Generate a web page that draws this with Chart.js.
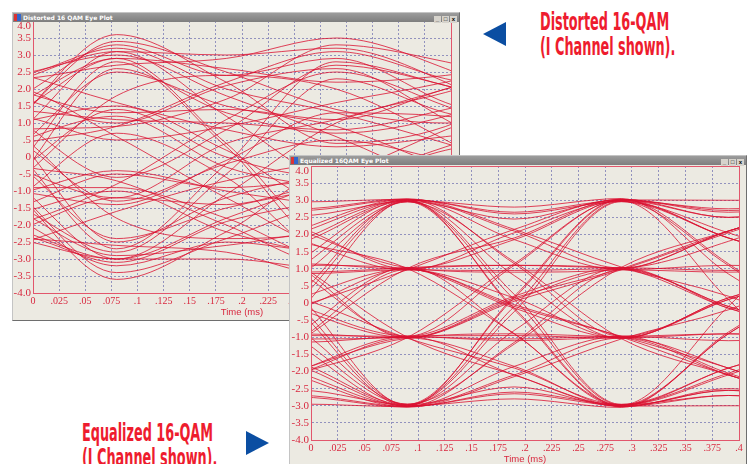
<!DOCTYPE html>
<html>
<head>
<meta charset="utf-8">
<script src="https://cdn.jsdelivr.net/npm/chart.js@4.4.1/dist/chart.umd.min.js"></script>
<style>
  html, body { margin: 0; padding: 0; background: #fff; width: 750px; height: 464px; overflow: hidden; position: relative; }
  .win { position: absolute; box-sizing: border-box; background: #ECEAE2; overflow: hidden;
         border: 1px solid; border-color: #c4c4c4 #6e6e6e #6e6e6e #c4c4c4; }
  .bar { position: absolute; left: 0; right: 0; top: 0; height: 9px; z-index: 2;
         background: linear-gradient(#9c9c9c, #7e7e7e); color: #fff;
         font: bold 6px "DejaVu Sans", sans-serif; line-height: 9px; padding-left: 10px; white-space: nowrap; }
  .bar .ico { position: absolute; left: 1px; top: 1px; width: 7px; height: 7px;
              background: linear-gradient(90deg, #d33 0 50%, #36c 50% 100%); }
  .bar .btns { position: absolute; right: 2px; top: 1px; }
  .bar .btns i { display: inline-block; width: 7px; height: 7px; margin-left: 1px; background: #d6d3cc;
                 color: #000; font: bold 6px sans-serif; line-height: 7px; text-align: center; font-style: normal; }
  canvas { position: absolute; }
  .note { position: absolute; color: #EE1C2E; font: bold 25px "Liberation Sans Narrow", "DejaVu Sans Condensed", sans-serif;
          line-height: 25px; transform: scaleX(0.57); transform-origin: left top; white-space: nowrap; }
  .tri { position: absolute; width: 0; height: 0; }
</style>
</head>
<body>

<div class="win" style="left:12px; top:12px; width:448px; height:309px; z-index:1;">
  <div class="bar"><span class="ico"></span>Distorted 16 QAM Eye Plot<span class="btns"><i>_</i><i>&#9633;</i><i>x</i></span></div>
  <canvas id="distorted" width="446" height="315" style="left:0; top:-7px;"></canvas>
</div>

<div class="win" style="left:289px; top:155px; width:458px; height:312px; z-index:3;">
  <div class="bar"><span class="ico"></span>Equalized 16QAM Eye Plot<span class="btns"><i>_</i><i>&#9633;</i><i>x</i></span></div>
  <canvas id="equalized" width="457" height="317" style="left:0; top:-5px;"></canvas>
</div>

<div class="tri" style="left:483px; top:22px; border-right:23px solid #0B4EA2; border-top:12px solid transparent; border-bottom:12px solid transparent;"></div>
<div class="note" style="left:540px; top:9px;">Distorted 16-QAM<br>(I Channel shown).</div>

<div class="note" style="left:82px; top:420px;">Equalized 16-QAM<br>(I Channel shown).</div>
<div class="tri" style="left:246px; top:431px; border-left:23px solid #0B4EA2; border-top:12px solid transparent; border-bottom:12px solid transparent;"></div>

<script>
// sample instants (ms): symbol, crossing, symbol, crossing ...
const dsTimes = [-0.12, -0.02, 0.08, 0.185, 0.29, 0.395, 0.5];
const eqTimes = [-0.11, -0.01, 0.09, 0.19, 0.29, 0.39, 0.49];

const xTickLabels = ['0', '.025', '.05', '.075', '.1', '.125', '.15', '.175', '.2',
                     '.225', '.25', '.275', '.3', '.325', '.35', '.375', '.4'];
const yTickLabels = ['-4.0', '-3.5', '-3.0', '-2.5', '-2.0', '-1.5', '-1.0', '-.5', '0',
                     '.5', '1.0', '1.5', '2.0', '2.5', '3.0', '3.5', '4.0'];

// distorted eye, traces grouped by level at first symbol
const dsFromTop = [
  [ 1.2,  1.7,  3.3,  2.4,  2.9,  1.6,  0.5],
  [-0.8,  0.6,  3.1,  1.2, -0.9, -1.8, -2.8],
  [-2.6, -0.4,  2.8,  0.3, -2.7, -2.0, -1.0],
  [ 2.6,  2.4,  3.2,  2.0,  1.3,  0.4, -0.6],
  [ 0.9,  1.3,  2.9,  0.4, -2.4, -1.2, -0.6],
  [-1.2,  1.0,  3.4,  2.5,  1.4,  1.0,  1.2],
  [ 2.7,  2.3,  2.7,  2.9,  3.5,  2.6,  1.1],
  [-3.0, -0.8,  2.6,  1.3,  0.7,  1.2,  2.4],
  [ 1.4,  2.2,  3.1,  3.0,  3.2,  2.2,  0.4],
  [-0.9,  0.2,  2.5,  1.5,  0.9, -0.3, -1.2],
  [ 2.2,  2.4,  3.0,  1.8,  0.6, -0.8, -2.0],
  [-2.0,  0.9,  3.6,  2.2,  0.4,  0.9,  2.6],
  [ 0.4,  1.5,  2.9,  2.6,  2.2,  2.4,  2.9]
];
const dsFromUpper = [
  [ 2.8,  2.0,  1.3,  1.4,  1.1,  2.0,  2.9],
  [-1.1,  0.3,  0.9,  2.2,  3.1,  2.3,  1.6],
  [ 0.8,  1.0,  1.5,  0.2, -1.4, -1.1, -0.6],
  [-2.7, -1.3,  0.7, -0.6, -2.9, -2.2, -1.0],
  [ 2.5,  1.8,  1.0,  2.1,  2.6,  1.1, -0.9],
  [ 1.1,  1.2,  0.5,  0.9,  1.6,  2.2,  3.0],
  [-0.6,  0.4,  1.2, -0.3, -1.0, -2.0, -2.8],
  [ 3.1,  2.5,  1.6,  0.8,  0.3,  0.6,  1.0],
  [ 0.2,  0.8,  0.9,  1.7,  3.3,  2.8,  2.0],
  [-1.8, -0.5,  1.4,  0.0, -0.6,  0.2,  0.9],
  [ 1.6,  1.4,  1.1,  1.0,  0.8,  1.4,  2.2],
  [-2.2, -0.8,  1.8,  2.4,  2.0,  0.5, -1.3],
  [ 2.3,  2.1,  0.6, -1.2, -2.6, -1.6, -0.2]
];
const dsFromLower = [
  [-2.9, -2.2, -1.2, -1.4, -0.8, -1.9, -2.7],
  [ 1.0, -0.2, -0.7, -2.0, -3.2, -2.4, -1.5],
  [-0.9, -1.0, -1.4, -0.1,  1.3,  1.2,  0.8],
  [ 2.8,  1.2, -0.6,  0.8,  2.7,  2.1,  1.1],
  [-2.4, -1.7, -1.0, -2.2, -2.8, -1.0,  0.9],
  [-1.3, -1.1, -0.4, -1.0, -1.5, -2.3, -3.1],
  [ 0.7, -0.3, -1.2,  0.4,  1.1,  2.0,  2.9],
  [-3.2, -2.6, -1.6, -0.7, -0.2, -0.5, -1.1],
  [-0.3, -0.9, -0.9, -1.8, -3.0, -2.7, -1.9],
  [ 1.9,  0.6, -1.3, -0.2,  0.5, -0.1, -0.8],
  [-1.7, -1.5, -0.5, -0.9, -0.7, -1.3, -2.0],
  [ 2.0,  0.8, -1.8, -2.4, -2.1, -0.7,  1.2],
  [-2.3, -2.0, -0.8,  1.1,  2.5,  1.5,  0.2]
];
const dsFromBottom = [
  [-1.1, -1.8, -3.2, -2.5, -2.8, -1.5, -0.4],
  [ 0.9, -0.7, -3.0, -1.1,  1.0,  1.9,  2.8],
  [ 2.7,  0.3, -2.7, -0.2,  2.8,  2.1,  1.2],
  [-2.5, -2.3, -3.1, -1.9, -1.2, -0.3,  0.7],
  [-0.8, -1.4, -2.8, -0.5,  2.3,  1.3,  0.6],
  [ 1.3, -0.9, -3.4, -2.4, -1.3, -1.1, -1.3],
  [-2.8, -2.4, -2.6, -2.8, -3.5, -2.5, -1.0],
  [ 3.0,  0.7, -2.5, -1.2, -0.6, -1.1, -2.3],
  [-1.5, -2.1, -3.0, -3.0, -3.3, -2.1, -0.5],
  [ 1.0, -0.1, -2.4, -1.5, -0.8,  0.3,  1.3],
  [-2.2, -2.4, -3.0, -1.8, -0.6,  0.8,  2.0],
  [ 2.0, -0.9, -3.6, -2.2, -0.4, -0.9, -2.6],
  [-0.4, -1.5, -2.9, -2.6, -2.2, -2.4, -2.9]
];

// equalized eye
const eqFromTop = [
  [ 1.0,  2.15,  3.03,  2.60,  2.96,  1.90,  1.0],
  [-1.0,  0.80,  2.95,  1.20, -1.04, -2.10, -3.0],
  [-3.0,  0.25,  3.01, -0.20, -3.03, -2.50, -3.0],
  [ 3.0,  2.75,  3.04,  2.15,  1.05,  0.20, -1.0],
  [ 1.0,  1.75,  2.98,  0.25, -2.96, -2.05, -1.0],
  [-1.0,  1.25,  3.02,  1.85,  0.97,  1.10,  1.0],
  [ 3.0,  2.55,  2.97,  2.45,  3.02,  2.70,  3.0],
  [-3.0, -0.20,  2.99,  0.80, -1.03,  0.15,  1.0],
  [ 1.0,  2.05,  3.00,  2.80,  3.05,  0.85, -1.0],
  [ 3.0,  2.95,  3.03,  1.15, -0.97, -0.90, -1.0],
  [-1.0,  1.05,  2.96, -0.15, -3.01, -3.00, -3.0],
  [ 1.0,  1.85,  3.01,  2.10,  1.02,  2.10,  3.0],
  [-3.0,  0.10,  2.97,  0.10, -2.98, -0.10,  3.0],
  [ 3.0,  2.70,  3.02,  2.65,  2.99,  1.90,  1.0]
];
const eqFromUpper = [
  [ 3.0,  2.10,  1.03,  0.90,  0.98,  2.10,  3.0],
  [-1.0, -0.10,  0.97,  2.15,  3.02,  2.65,  3.0],
  [ 1.0,  1.10,  1.01, -0.15, -1.02, -0.90, -1.0],
  [-3.0, -0.85,  1.04, -0.90, -2.98, -2.10, -1.0],
  [ 3.0,  1.85,  0.96,  2.05,  2.97,  1.10, -1.0],
  [ 1.0,  0.90,  1.02,  1.10,  1.03,  1.80,  3.0],
  [-1.0,  0.15,  0.99, -0.10, -0.97, -1.90, -3.0],
  [ 3.0,  2.20,  0.98,  0.95,  1.00, -0.10, -1.0],
  [-3.0, -1.10,  1.01,  1.90,  3.03,  1.15, -1.0],
  [ 1.0,  0.85,  0.97,  0.15, -1.02,  0.10,  1.0],
  [-1.0, -0.15,  1.03,  1.10,  0.99, -0.15, -1.0],
  [ 3.0,  1.80,  1.01, -0.90, -3.02, -2.55, -3.0],
  [ 1.0,  1.15,  0.99,  1.85,  2.99,  2.75,  3.0],
  [-3.0, -1.05,  0.98, -0.05, -0.99, -2.10, -3.0]
];
const eqFromLower = [
  [-3.0, -1.95, -0.98, -1.10, -1.01, -1.90, -3.0],
  [ 1.0,  0.15, -1.03, -1.90, -2.97, -2.70, -3.0],
  [-1.0, -1.05, -0.99,  0.20,  1.03,  0.95,  1.0],
  [ 3.0,  0.90, -0.97,  1.10,  3.01,  1.90,  1.0],
  [-3.0, -2.05, -1.02, -1.85, -3.02, -0.90,  1.0],
  [-1.0, -0.95, -0.98, -1.05, -0.97, -2.05, -3.0],
  [ 1.0, -0.20, -1.01,  0.15,  1.00,  2.10,  3.0],
  [-3.0, -1.95, -1.03, -0.90, -0.98,  0.10,  1.0],
  [ 3.0,  1.10, -1.00, -2.10, -2.99, -0.90,  1.0],
  [-1.0, -0.90, -1.02,  0.10,  0.98, -0.10, -1.0],
  [ 1.0, -0.10, -0.96, -0.95, -1.03,  0.15,  1.0],
  [-3.0, -2.05, -1.01,  1.15,  3.00,  2.50,  3.0],
  [-1.0, -1.15, -0.98, -2.10, -3.01, -2.55, -3.0],
  [ 3.0,  1.05, -1.02,  0.05,  0.97,  2.05,  3.0]
];
const eqFromBottom = [
  [-1.0, -2.15, -3.03, -2.60, -2.96, -1.90, -1.0],
  [ 1.0, -0.80, -2.95, -1.20,  1.04,  2.10,  3.0],
  [ 3.0, -0.25, -3.01,  0.20,  3.03,  2.50,  3.0],
  [-3.0, -2.75, -3.04, -2.15, -1.05, -0.20,  1.0],
  [-1.0, -1.75, -2.98, -0.25,  2.96,  2.05,  1.0],
  [ 1.0, -1.25, -3.02, -1.85, -0.97, -1.10, -1.0],
  [-3.0, -2.55, -2.97, -2.45, -3.02, -2.70, -3.0],
  [ 3.0,  0.20, -2.99, -0.80,  1.03, -0.15, -1.0],
  [-1.0, -2.05, -3.00, -2.80, -3.05, -0.85,  1.0],
  [-3.0, -2.95, -3.03, -1.15,  0.97,  0.90,  1.0],
  [ 1.0, -1.05, -2.96,  0.15,  3.01,  3.00,  3.0],
  [-1.0, -1.85, -3.01, -2.10, -1.02, -2.10, -3.0],
  [ 3.0, -0.10, -2.97, -0.10,  2.98,  0.10, -3.0],
  [-3.0, -2.70, -3.02, -2.65, -2.99, -1.90, -1.0]
];

const TRACE = 'rgba(218, 16, 48, 0.88)';
const AXIS_RED = '#E2566C';
const LABEL_RED = '#D8283F';
const GRID = '#9292BE';

function traceSets(times, groups) {
  return groups.flat().map(vals => ({
    data: vals.map((y, i) => ({ x: times[i], y: y })),
    borderColor: TRACE,
    borderWidth: 0.9,
    pointRadius: 0,
    fill: false,
    cubicInterpolationMode: 'monotone'
  }));
}

// red box round the plot area
const plotFrame = {
  id: 'plotFrame',
  afterDatasetsDraw(chart) {
    const { ctx, chartArea: a } = chart;
    ctx.save();
    ctx.strokeStyle = AXIS_RED;
    ctx.lineWidth = 1;
    ctx.strokeRect(Math.round(a.left) + 0.5, Math.round(a.top) + 0.5,
                   Math.round(a.right - a.left), Math.round(a.bottom - a.top));
    ctx.restore();
  }
};

function eyeOptions(yAxisWidth) {
  return {
    responsive: false,
    animation: false,
    events: [],
    layout: { padding: { top: 15, right: 8, left: 0, bottom: 0 } },
    plugins: { legend: { display: false }, tooltip: { enabled: false } },
    scales: {
      x: {
        type: 'linear', min: 0, max: 0.4,
        afterFit: (scale) => { scale.height = 28; },
        grid: { color: GRID, lineWidth: 1, drawTicks: false },
        border: { color: AXIS_RED, width: 1, dash: [2, 2] },
        ticks: {
          stepSize: 0.025, autoSkip: false, maxRotation: 0, padding: 2,
          color: LABEL_RED, font: { family: 'Liberation Serif', size: 10 },
          callback: (v, i) => xTickLabels[i]
        },
        title: {
          display: true, text: 'Time (ms)', color: LABEL_RED,
          font: { family: 'Liberation Sans', size: 9.5 }, padding: { top: 0, bottom: 3 }
        }
      },
      y: {
        min: -4, max: 4,
        afterFit: (scale) => { scale.width = yAxisWidth; },
        grid: { color: GRID, lineWidth: 1, drawTicks: false },
        border: { color: AXIS_RED, width: 1, dash: [2, 2] },
        ticks: {
          stepSize: 0.5, autoSkip: false, padding: 2,
          color: LABEL_RED, font: { family: 'Liberation Serif', size: 11, lineHeight: 0.9 },
          callback: (v, i, ticks) => i === ticks.length - 1 ? ['', yTickLabels[i]] : yTickLabels[i]
        }
      }
    }
  };
}

new Chart(document.getElementById('distorted'), {
  type: 'line',
  data: { datasets: traceSets(dsTimes, [dsFromTop, dsFromUpper, dsFromLower, dsFromBottom]) },
  options: eyeOptions(20),
  plugins: [plotFrame]
});

new Chart(document.getElementById('equalized'), {
  type: 'line',
  data: { datasets: traceSets(eqTimes, [eqFromTop, eqFromUpper, eqFromLower, eqFromBottom]) },
  options: eyeOptions(21),
  plugins: [plotFrame]
});
</script>
</body>
</html>
